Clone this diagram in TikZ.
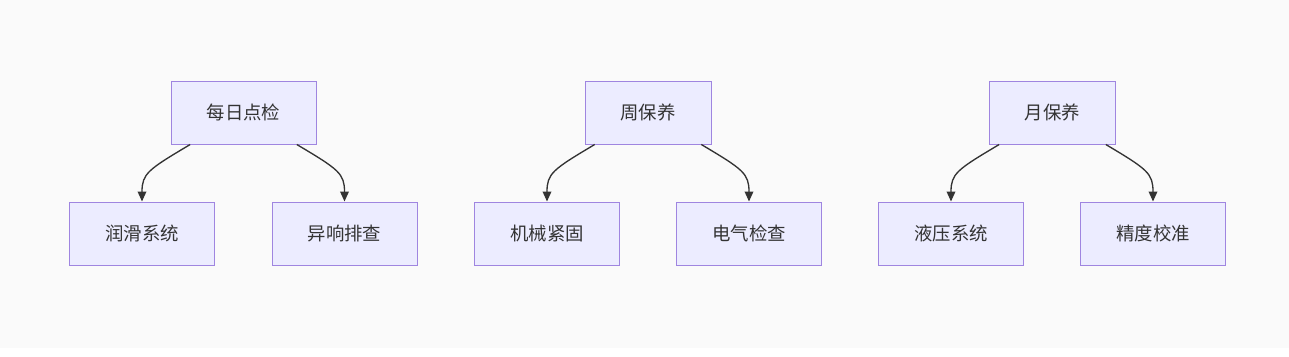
\documentclass[tikz,border=0pt]{standalone}
\usepackage{fontspec}
\newfontfamily\cjk{Noto Sans CJK SC}
\usetikzlibrary{arrows.meta}
\definecolor{bg}{HTML}{FAFAFA}
\definecolor{nodefill}{HTML}{ECECFF}
\definecolor{nodeline}{HTML}{9F85E0}
\definecolor{ink}{HTML}{333333}
\tikzset{
  box/.style={draw=nodeline, fill=nodefill, line width=0.75pt, minimum height=47.25pt, inner sep=0pt,
    font=\cjk\fontsize{13.8}{16}\selectfont, text=ink},
  wide/.style={box, minimum width=108.75pt},
  narrow/.style={box, minimum width=94.5pt},
  link/.style={draw=ink, line width=1pt, -{Triangle[length=7.5pt,width=6.5pt]}}
}
\begin{document}
\begin{tikzpicture}[x=0.75pt,y=-0.75pt]
\useasboundingbox (0,0) rectangle (1289,357);
\fill[white] (0,0) rectangle (1289,357);
\fill[bg] (0,0) rectangle (1289,348);
% row 1
\node[wide] (a) at (243.5,112.5) {每日点检};
\node[wide] (a1) at (142,233.5) {润滑系统};
\node[wide] (a2) at (344.5,233.5) {异响排查};
\node[narrow] (b) at (648,112.5) {周保养};
\node[wide] (b1) at (547,233.5) {机械紧固};
\node[wide] (b2) at (749,233.5) {电气检查};
\node[narrow] (c) at (1052.5,112.5) {月保养};
\node[wide] (c1) at (951,233.5) {液压系统};
\node[wide] (c2) at (1153,233.5) {精度校准};
% edges
\draw[link] ([xshift=-40pt]a.south) .. controls +(-42,25) and +(0,-28) .. (a1.north);
\draw[link] ([xshift=40pt]a.south) .. controls +(42,25) and +(0,-28) .. (a2.north);
\draw[link] ([xshift=-40pt]b.south) .. controls +(-42,25) and +(0,-28) .. (b1.north);
\draw[link] ([xshift=40pt]b.south) .. controls +(42,25) and +(0,-28) .. (b2.north);
\draw[link] ([xshift=-40pt]c.south) .. controls +(-42,25) and +(0,-28) .. (c1.north);
\draw[link] ([xshift=40pt]c.south) .. controls +(42,25) and +(0,-28) .. (c2.north);
\end{tikzpicture}
\end{document}
